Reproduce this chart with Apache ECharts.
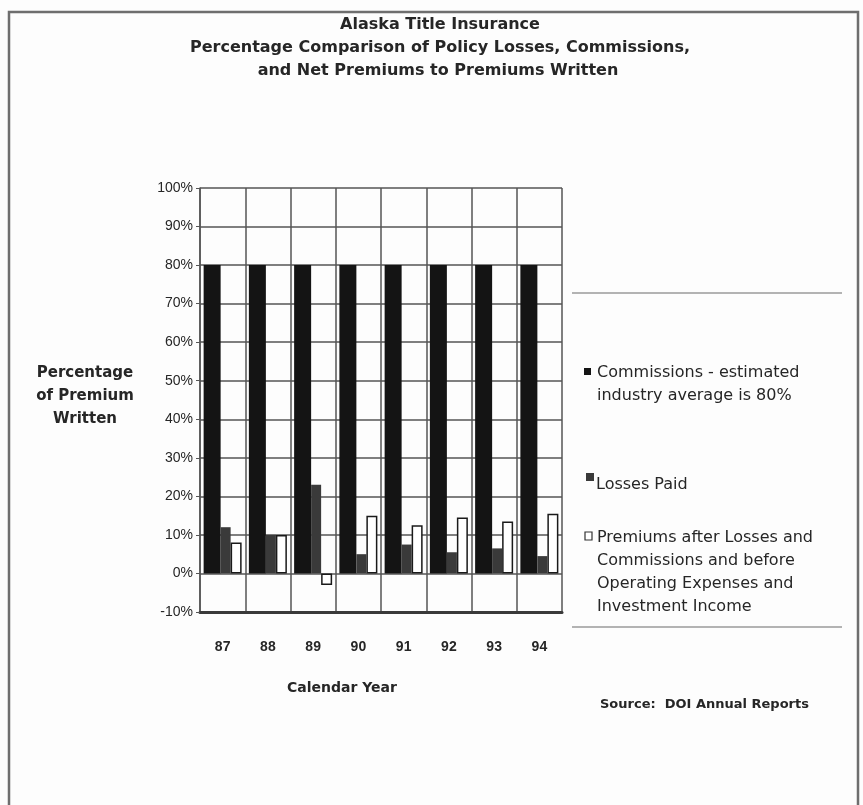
<!DOCTYPE html>
<html>
<head>
<meta charset="utf-8">
<script src="https://cdn.jsdelivr.net/npm/echarts@6/dist/echarts.min.js"></script>
<style>
  html, body { margin: 0; padding: 0; background: #fdfdfd; }
  #chart { width: 863px; height: 805px; }
</style>
</head>
<body>
<div id="chart"></div>
<script>
// Calendar years (19xx) and the three percentage series
const years = ['87', '88', '89', '90', '91', '92', '93', '94'];
const commissions = [80, 80, 80, 80, 80, 80, 80, 80];
const lossesPaid = [12, 10, 23, 5, 7.5, 5.5, 6.5, 4.5];
const netPremiums = [8, 10, -3, 15, 12.5, 14.5, 13.5, 15.5];

const seriesNames = [
  'Commissions - estimated industry average is 80%',
  'Losses Paid',
  'Premiums after Losses and Commissions and before Operating Expenses and Investment Income'
];
const titleLines = [
  'Alaska Title Insurance',
  'Percentage Comparison of Policy Losses, Commissions,',
  'and Net Premiums to Premiums Written'
];

const FONT = '"DejaVu Sans", "Liberation Sans", Arial, sans-serif';
const AXFONT = '"Liberation Sans", Arial, Helvetica, sans-serif';
const INK = '#262626';

const chart = echarts.init(document.getElementById('chart'), null, { renderer: 'canvas' });

const legendText = { fill: INK, font: '16px ' + FONT, lineHeight: 23 };
const titleFont = 'bold 16px ' + FONT;

chart.setOption({
  backgroundColor: '#fdfdfd',
  animation: false,
  grid: { left: 200, top: 188, width: 362, height: 424, containLabel: false },
  xAxis: {
    type: 'category',
    data: years,
    axisLine: { show: true, onZero: false, lineStyle: { color: '#3a3a3a', width: 3 } },
    axisTick: { show: false },
    splitLine: { show: true, lineStyle: { color: '#555', width: 1.5 } },
    axisLabel: { margin: 28, color: INK, fontFamily: AXFONT, fontSize: 14, fontWeight: 'bold' }
  },
  yAxis: {
    type: 'value',
    min: -10,
    max: 100,
    interval: 10,
    axisLine: { show: true, lineStyle: { color: '#555', width: 1.5 } },
    axisTick: { show: true, length: 4, lineStyle: { color: '#555' } },
    splitLine: { show: true, lineStyle: { color: '#555', width: 1.5 } },
    axisLabel: {
      margin: 7, color: INK, fontFamily: AXFONT, fontSize: 14,
      formatter: v => v + '%'
    }
  },
  series: [
    {
      name: seriesNames[0], type: 'bar', data: commissions,
      barWidth: 17, barGap: '0%',
      itemStyle: { color: '#141414' }
    },
    {
      name: seriesNames[1], type: 'bar', data: lossesPaid,
      barWidth: 10, barGap: '0%',
      itemStyle: { color: '#3a3a3a' }
    },
    {
      name: seriesNames[2], type: 'bar', data: netPremiums,
      barWidth: 11, barGap: '0%',
      itemStyle: { color: '#ffffff', borderColor: '#1a1a1a', borderWidth: 1.5 }
    }
  ],
  graphic: [
    // page frame
    { type: 'polyline', silent: true, shape: { points: [[9, 805], [9, 12], [858, 12], [858, 805]] },
      style: { stroke: '#6e6e6e', lineWidth: 2.5, fill: null } },
    // title
    { type: 'text', x: 440, y: 25, silent: true,
      style: { text: titleLines[0], fill: INK, font: titleFont, align: 'center', verticalAlign: 'middle' } },
    { type: 'text', x: 440, y: 48, silent: true,
      style: { text: titleLines[1], fill: INK, font: titleFont, align: 'center', verticalAlign: 'middle' } },
    { type: 'text', x: 438, y: 71, silent: true,
      style: { text: titleLines[2], fill: INK, font: titleFont, align: 'center', verticalAlign: 'middle' } },
    // y-axis name
    { type: 'text', x: 85, y: 362, silent: true,
      style: { text: 'Percentage\nof Premium\nWritten', fill: INK, font: 'bold 15px ' + FONT,
               align: 'center', lineHeight: 23 } },
    // x-axis name
    { type: 'text', x: 342, y: 688, silent: true,
      style: { text: 'Calendar Year', fill: INK, font: 'bold 14px ' + FONT, align: 'center', verticalAlign: 'middle' } },
    // legend box
    { type: 'line', silent: true, shape: { x1: 572, y1: 293, x2: 842, y2: 293 }, style: { stroke: '#9a9a9a', lineWidth: 1.5 } },
    { type: 'line', silent: true, shape: { x1: 572, y1: 627, x2: 842, y2: 627 }, style: { stroke: '#9a9a9a', lineWidth: 1.5 } },
    { type: 'rect', silent: true, shape: { x: 584, y: 368, width: 7, height: 7 }, style: { fill: '#141414' } },
    { type: 'text', x: 597, y: 361, silent: true,
      style: Object.assign({ text: 'Commissions - estimated\nindustry average is 80%' }, legendText) },
    { type: 'rect', silent: true, shape: { x: 586, y: 473, width: 8, height: 8 }, style: { fill: '#3a3a3a' } },
    { type: 'text', x: 596, y: 473, silent: true,
      style: Object.assign({ text: 'Losses Paid' }, legendText) },
    { type: 'rect', silent: true, shape: { x: 585, y: 532, width: 7, height: 8 }, style: { fill: '#fff', stroke: '#333', lineWidth: 1.2 } },
    { type: 'text', x: 597, y: 526, silent: true,
      style: Object.assign({ text: 'Premiums after Losses and\nCommissions and before\nOperating Expenses and\nInvestment Income' }, legendText) },
    // source note
    { type: 'text', x: 600, y: 705, silent: true,
      style: { text: 'Source:  DOI Annual Reports', fill: INK, font: 'bold 13px ' + FONT, verticalAlign: 'middle' } }
  ]
});
</script>
</body>
</html>
